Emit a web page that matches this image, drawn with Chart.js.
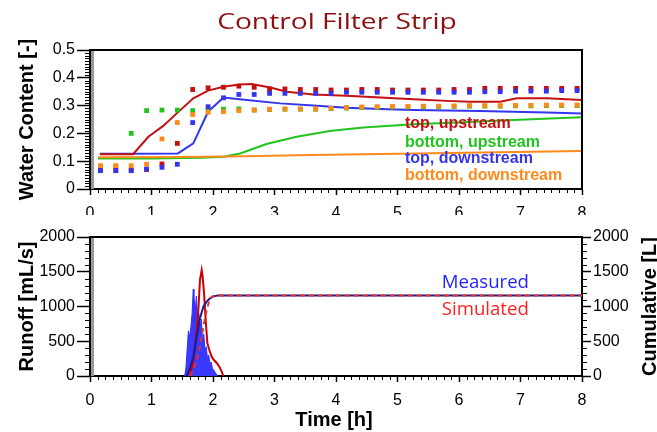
<!DOCTYPE html>
<html><head><meta charset="utf-8">
<script src="https://cdn.jsdelivr.net/npm/chart.js@4.4.0/dist/chart.umd.min.js"></script>
<style>
html,body{margin:0;padding:0;background:#fff;}
#w{position:relative;width:657px;height:432px;overflow:hidden;background:#fff;}
#c1{position:absolute;left:0;top:0;}
#c2{position:absolute;left:0;top:215px;}
</style></head><body>
<div id="w"><canvas id="c1" width="657" height="215"></canvas><canvas id="c2" width="657" height="217"></canvas></div>
<script>
// ---------- DATA ----------
const hourTicks = [0,1,2,3,4,5,6,7,8];
// measured water content (markers), time in hours
const measTime = [0.17,0.42,0.67,0.92,1.17,1.42,1.67,1.92,2.17,2.42,2.67,2.92,3.17,3.42,3.67,3.92,4.17,4.42,4.67,4.92,5.17,5.42,5.67,5.92,6.17,6.42,6.67,6.92,7.17,7.42,7.67,7.92];
const topUpMeas   = [0.068,0.068,0.068,0.070,0.090,0.164,0.358,0.364,0.366,0.370,0.366,0.360,0.360,0.358,0.358,0.356,0.356,0.358,0.358,0.356,0.356,0.356,0.356,0.358,0.358,0.362,0.362,0.362,0.362,0.362,0.362,0.362];
const botUpMeas   = [0.082,0.082,0.200,0.282,0.284,0.284,0.282,0.288,0.287,0.288,0.284,0.286,0.287,0.287,0.287,0.289,0.291,0.293,0.294,0.295,0.295,0.296,0.296,0.297,0.298,0.298,0.298,0.299,0.299,0.300,0.300,0.300];
const topDownMeas = [0.066,0.066,0.066,0.072,0.078,0.089,0.239,0.296,0.328,0.340,0.340,0.344,0.344,0.344,0.344,0.344,0.348,0.348,0.348,0.348,0.348,0.348,0.348,0.348,0.348,0.350,0.350,0.352,0.352,0.352,0.354,0.354];
const botDownMeas = [0.084,0.084,0.084,0.089,0.180,0.239,0.268,0.276,0.278,0.282,0.284,0.287,0.288,0.288,0.288,0.290,0.293,0.295,0.296,0.297,0.297,0.298,0.298,0.299,0.300,0.300,0.300,0.301,0.301,0.302,0.302,0.302];
// simulated water content (lines)
const topUpSimT   = [0.16,0.70,0.95,1.19,1.41,1.68,1.92,2.17,2.43,2.63,2.93,3.20,3.63,4.17,4.72,5.26,5.80,6.18,6.67,6.94,7.43,8.00];
const topUpSim    = [0.125,0.125,0.188,0.227,0.272,0.326,0.354,0.368,0.376,0.378,0.365,0.350,0.340,0.335,0.329,0.323,0.317,0.314,0.314,0.326,0.326,0.320];
const topDownSimT = [0.16,0.70,1.43,1.68,1.92,2.17,2.55,3.09,3.63,4.17,4.72,5.26,5.80,6.34,6.88,7.43,8.00];
const topDownSim  = [0.127,0.127,0.128,0.164,0.278,0.329,0.320,0.308,0.300,0.292,0.288,0.284,0.282,0.281,0.278,0.275,0.272];
const botUpSimT   = [0.13,1.00,1.80,2.17,2.44,2.87,3.36,3.90,4.44,5.26,6.07,6.88,8.00];
const botUpSim    = [0.110,0.110,0.112,0.116,0.128,0.162,0.188,0.209,0.221,0.233,0.240,0.248,0.258];
const botDownSimT = [0.13,1.50,2.50,3.60,5.30,8.00];
const botDownSim  = [0.114,0.115,0.118,0.122,0.128,0.137];
// runoff (mL/s)
const runMeasT = [1.54,1.56,1.58,1.60,1.62,1.64,1.66,1.68,1.69,1.70,1.72,1.73,1.75,1.77,1.79,1.81,1.83,1.85,1.87,1.89,1.91,1.93,1.95,1.97,1.99,2.01,2.03,2.05,2.07];
const runMeas  = [0,120,380,650,560,700,900,1250,780,1100,950,1150,820,900,700,820,520,600,380,420,260,300,180,200,110,90,60,30,0];
const runSimT  = [1.626,1.68,1.724,1.762,1.788,1.816,1.832,1.854,1.881,1.908,1.94,1.978,2.016,2.06,2.103,2.141,2.168];
const runSim   = [0,230,565,950,1381,1525,1429,1194,806,475,374,278,230,187,134,62,0];
// cumulative (L)
const cumMeasT = [1.57,1.63,1.68,1.734,1.788,1.843,1.897,1.951,2.005,2.087,8.0];
const cumMeas  = [0,120,278,565,830,997,1069,1117,1145,1160,1160];
const cumSimT  = [1.626,1.68,1.734,1.788,1.843,1.897,1.951,2.005,2.087,8.0];
const cumSim   = [0,90,230,422,710,950,1117,1150,1160,1160];

const legendTop = ['top, upstream','bottom, upstream','top, downstream','bottom, downstream'];
const legendBot = ['Measured','Simulated'];

// ---------- STYLE ----------
const RED='#c41010', GREEN='#22c41e', BLUE='#3535ee', ORANGE='#ff8a1c';
const FA="'Liberation Sans', Arial, Helvetica, sans-serif";
Chart.defaults.font.family = FA;
Chart.defaults.font.size = 16;
Chart.defaults.color = '#000';

function pts(xs, ys){ return xs.map((x,i)=>({x:x, y:ys[i]})); }
function markers(xs, ys, c){ return {data:pts(xs,ys), showLine:false, pointStyle:'rect', pointRadius:3.4, pointHoverRadius:3.4, backgroundColor:c, borderColor:c, borderWidth:0}; }
function line(xs, ys, c, w, dash){ return {data:pts(xs,ys), showLine:true, pointRadius:0, pointHoverRadius:0, borderColor:c, borderWidth:w||2, borderDash:dash||[], tension:0, fill:false}; }

function seg(ctx,x1,y1,x2,y2){ ctx.beginPath(); ctx.moveTo(x1,y1); ctx.lineTo(x2,y2); ctx.stroke(); }

function xAxisCfg(h){
  return {type:'linear', min:0, max:8,
    afterBuildTicks(s){ s.ticks = hourTicks.map(v=>({value:v})); },
    ticks:{padding:9, maxRotation:0, autoSkip:false, font:{size:16}},
    grid:{drawOnChartArea:false, drawTicks:true, tickLength:6, tickColor:'#000', tickWidth:1.5},
    border:{color:'#000', width:2},
    afterFit(s){ s.height=h; }};
}

function minorX(ctx, chart){
  const xs=chart.scales.x, b=chart.chartArea.bottom;
  ctx.strokeStyle='#000'; ctx.lineWidth=1;
  for(let k=1;k<64;k++){ if(k%8===0) continue; const p=Math.round(xs.getPixelForValue(k/8))+0.5; seg(ctx,p,b,p,b+4); }
}

// ---------- TOP CHART ----------
const topPlugin = {id:'topDeco', afterDraw(chart){
  const ctx=chart.ctx, a=chart.chartArea, ys=chart.scales.y, xs=chart.scales.x;
  ctx.save();
  ctx.fillStyle='#9a9a9a'; ctx.fillRect(a.left+1, a.top, 3, a.bottom-a.top);
  ctx.strokeStyle='#000'; ctx.lineWidth=2;
  ctx.beginPath(); ctx.moveTo(a.left-1,a.top); ctx.lineTo(a.right,a.top); ctx.lineTo(a.right,a.bottom); ctx.stroke();
  ctx.lineWidth=1;
  for(let k=1;k<50;k++){ if(k%10===0) continue; const p=Math.round(ys.getPixelForValue(k/100))+0.5; seg(ctx,a.left-5,p,a.left,p); }
  minorX(ctx, chart);
  ctx.fillStyle='#8c1010'; ctx.font="22px 'Open Sans', sans-serif"; ctx.textAlign='center'; ctx.textBaseline='alphabetic';
  ctx.save(); ctx.translate(337,28.5); ctx.scale(1.28,1); ctx.fillText('Control Filter Strip',0,0); ctx.restore();
  ctx.fillStyle='#000'; ctx.font="bold 20px "+FA;
  ctx.save(); ctx.translate(33,(a.top+a.bottom)/2); ctx.rotate(-Math.PI/2); ctx.textAlign='center'; ctx.fillText('Water Content [-]',0,0); ctx.restore();
  const cols=[RED,GREEN,BLUE,ORANGE], vals=[0.2385,0.170,0.114,0.054];
  ctx.font="bold 16px "+FA; ctx.textAlign='left';
  legendTop.forEach((t,i)=>{ ctx.fillStyle=cols[i]; ctx.fillText(t, xs.getPixelForValue(5.12), ys.getPixelForValue(vals[i])+5.7); });
  ctx.restore();
}};

new Chart(document.getElementById('c1'), {
  type:'scatter',
  data:{datasets:[
    markers(measTime, botDownMeas, ORANGE),
    markers(measTime, topDownMeas, BLUE),
    markers(measTime, topUpMeas, RED),
    markers(measTime, botUpMeas, GREEN),
    line(topUpSimT, topUpSim, RED, 2),
    line(botDownSimT, botDownSim, ORANGE, 2),
    line(topDownSimT, topDownSim, BLUE, 2),
    line(botUpSimT, botUpSim, GREEN, 2)
  ]},
  options:{
    responsive:false, animation:false, events:[],
    layout:{padding:{top:50,right:75,left:0,bottom:0}},
    plugins:{legend:{display:false}, tooltip:{enabled:false}, title:{display:false}},
    scales:{
      x:xAxisCfg(26),
      y:{type:'linear', min:0, max:0.5,
        ticks:{stepSize:0.1, padding:2, font:{size:16}, callback:v=>String(Math.round(v*10)/10)},
        grid:{drawOnChartArea:false, drawTicks:true, tickLength:13, tickColor:'#000', tickWidth:1.5},
        border:{color:'#000', width:2},
        afterFit(s){ s.width=90; }}
    }
  },
  plugins:[topPlugin]
});

// ---------- BOTTOM CHART ----------
const botPlugin = {id:'botDeco', afterDraw(chart){
  const ctx=chart.ctx, a=chart.chartArea, ys=chart.scales.y, xs=chart.scales.x;
  ctx.save();
  ctx.fillStyle='#9a9a9a'; ctx.fillRect(a.left+1, a.top, 3, a.bottom-a.top);
  ctx.strokeStyle='#000'; ctx.lineWidth=2;
  seg(ctx,a.left-1,a.top,a.right+1,a.top);
  ctx.lineWidth=1;
  for(let k=1;k<20;k++){ if(k%5===0) continue; const p=Math.round(ys.getPixelForValue(k*100))+0.5; seg(ctx,a.left-5,p,a.left,p); seg(ctx,a.right,p,a.right+5,p); }
  minorX(ctx, chart);
  ctx.fillStyle='#000'; ctx.font="bold 20px "+FA;
  ctx.save(); ctx.translate(32.5,(a.top+a.bottom)/2); ctx.rotate(-Math.PI/2); ctx.textAlign='center'; ctx.fillText('Runoff [mL/s]',0,0); ctx.restore();
  ctx.save(); ctx.translate(655.5,(a.top+a.bottom)/2); ctx.rotate(-Math.PI/2); ctx.textAlign='center'; ctx.fillText('Cumulative [L]',0,0); ctx.restore();
  ctx.textAlign='center'; ctx.fillText('Time [h]', 334, 211);
  ctx.font="18.6px 'Open Sans', sans-serif"; ctx.textAlign='left';
  ctx.fillStyle='#1f1fff'; ctx.fillText(legendBot[0], xs.getPixelForValue(5.72), ys.getPixelForValue(1357)+6.6);
  ctx.fillStyle='#ff2020'; ctx.fillText(legendBot[1], xs.getPixelForValue(5.72), ys.getPixelForValue(974)+6.6);
  ctx.restore();
}};

const runFill = line(runMeasT, runMeas, '#2f2fff', 1);
runFill.fill = 'origin'; runFill.backgroundColor = '#3a3aff';
const cm = line(cumMeasT, cumMeas, '#1c1c8c', 2); cm.yAxisID='y2';
const cs = line(cumSimT, cumSim, '#e8302a', 2, [5,4]); cs.yAxisID='y2';

new Chart(document.getElementById('c2'), {
  type:'scatter',
  data:{datasets:[ cs, cm, line(runSimT, runSim, '#cc0000', 2), runFill ]},
  options:{
    responsive:false, animation:false, events:[],
    layout:{padding:{top:22,right:0,left:0,bottom:0}},
    plugins:{legend:{display:false}, tooltip:{enabled:false}, title:{display:false}},
    scales:{
      x:xAxisCfg(56),
      y:{type:'linear', position:'left', min:0, max:2000,
        ticks:{stepSize:500, padding:2, font:{size:16}, callback:v=>String(v)},
        grid:{drawOnChartArea:false, drawTicks:true, tickLength:13, tickColor:'#000', tickWidth:1.5},
        border:{color:'#000', width:2},
        afterFit(s){ s.width=90; }},
      y2:{type:'linear', position:'right', min:0, max:2000,
        ticks:{stepSize:500, padding:2, font:{size:16}, callback:v=>String(v)},
        grid:{drawOnChartArea:false, drawTicks:true, tickLength:9, tickColor:'#000', tickWidth:1.5},
        border:{color:'#000', width:2},
        afterFit(s){ s.width=75; }}
    }
  },
  plugins:[botPlugin]
});
</script>
</body></html>
